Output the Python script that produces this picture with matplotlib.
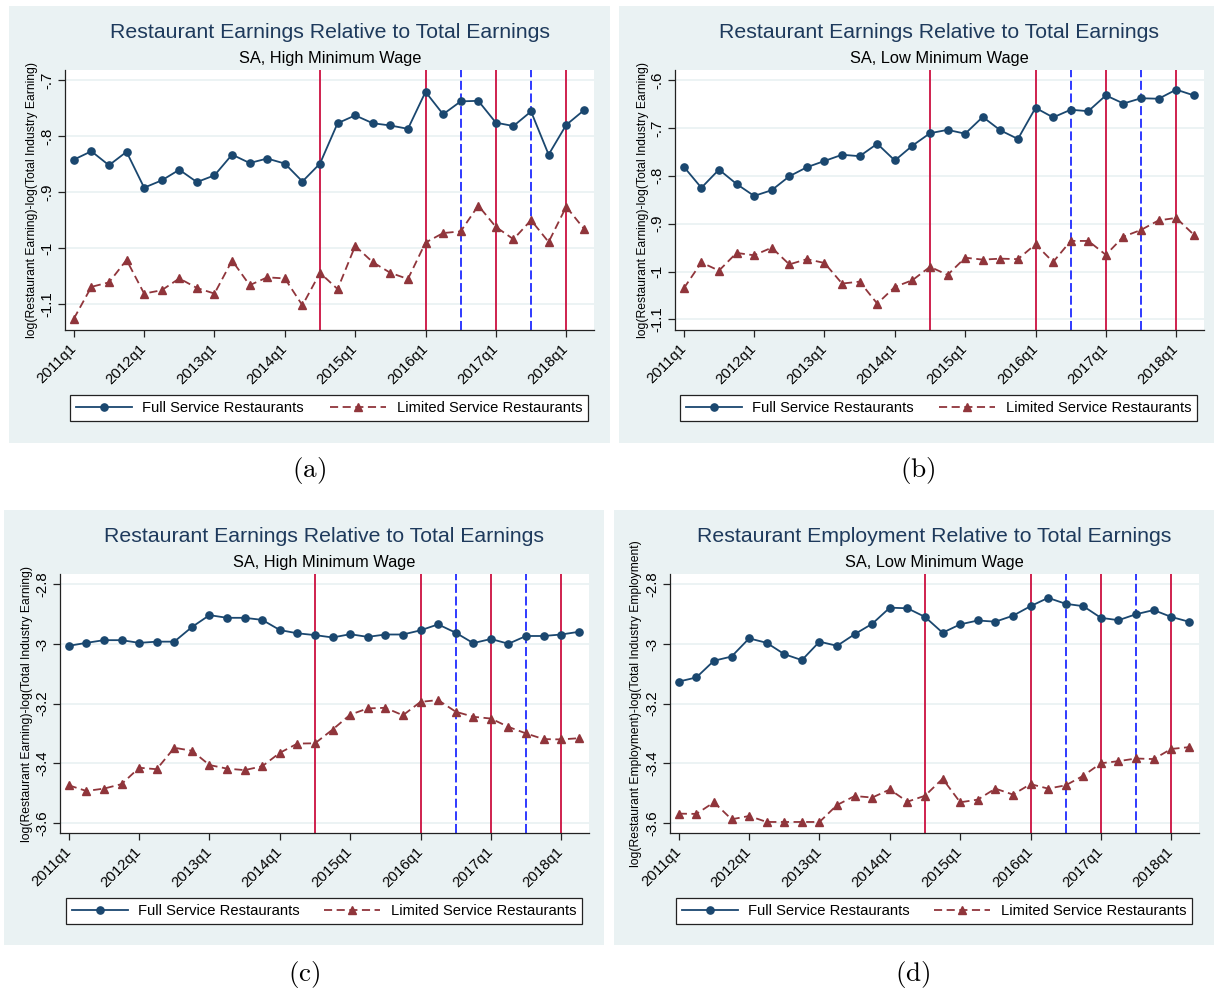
import matplotlib
matplotlib.use("Agg")
import matplotlib.pyplot as plt
from matplotlib.patches import Rectangle

plt.rcParams["font.family"] = ["Liberation Sans", "DejaVu Sans"]
plt.rcParams["mathtext.fontset"] = "cm"

# ---------------------------------------------------------------- data
quarters = [f"{y}q{q}" for y in range(2011, 2019) for q in range(1, 5)][:30]
xtick_labels = ["2011q1", "2012q1", "2013q1", "2014q1",
                "2015q1", "2016q1", "2017q1", "2018q1"]

# minimum wage increases (solid) and mid-year increases (dashed)
increase_quarters = ["2014q3", "2016q1", "2017q1", "2018q1"]
midyear_quarters = ["2016q3", "2017q3"]

full_a = [-0.842, -0.827, -0.852, -0.828, -0.892, -0.879, -0.860, -0.882,
          -0.870, -0.833, -0.848, -0.840, -0.849, -0.881, -0.849, -0.777,
          -0.763, -0.777, -0.781, -0.787, -0.721, -0.761, -0.738, -0.737,
          -0.776, -0.782, -0.756, -0.833, -0.780, -0.754]
limited_a = [-1.126, -1.069, -1.061, -1.021, -1.081, -1.075, -1.054, -1.071,
             -1.081, -1.022, -1.066, -1.052, -1.054, -1.102, -1.044, -1.073,
             -0.996, -1.025, -1.044, -1.055, -0.990, -0.973, -0.970, -0.924,
             -0.962, -0.984, -0.950, -0.989, -0.926, -0.965]

full_b = [-0.781, -0.825, -0.787, -0.817, -0.842, -0.830, -0.801, -0.782,
          -0.769, -0.756, -0.759, -0.733, -0.768, -0.737, -0.711, -0.704,
          -0.712, -0.677, -0.705, -0.723, -0.658, -0.678, -0.662, -0.665,
          -0.632, -0.649, -0.638, -0.639, -0.620, -0.632]
limited_b = [-1.035, -0.981, -0.998, -0.961, -0.966, -0.950, -0.985, -0.974,
             -0.982, -1.025, -1.021, -1.067, -1.032, -1.018, -0.990, -1.007,
             -0.971, -0.975, -0.973, -0.974, -0.943, -0.980, -0.936, -0.936,
             -0.965, -0.927, -0.913, -0.893, -0.888, -0.923]

full_c = [-3.006, -2.996, -2.987, -2.987, -2.996, -2.992, -2.992, -2.943,
          -2.903, -2.912, -2.912, -2.919, -2.953, -2.964, -2.970, -2.978,
          -2.967, -2.976, -2.968, -2.968, -2.954, -2.934, -2.962, -2.997,
          -2.983, -2.999, -2.973, -2.973, -2.968, -2.959]
limited_c = [-3.474, -3.493, -3.485, -3.470, -3.415, -3.420, -3.348, -3.358,
             -3.406, -3.418, -3.423, -3.410, -3.365, -3.334, -3.333, -3.287,
             -3.237, -3.216, -3.214, -3.239, -3.194, -3.188, -3.227, -3.244,
             -3.250, -3.278, -3.300, -3.319, -3.320, -3.316]

full_d = [-3.126, -3.112, -3.056, -3.042, -2.981, -2.996, -3.034, -3.054,
          -2.992, -3.006, -2.967, -2.932, -2.878, -2.880, -2.909, -2.962,
          -2.934, -2.921, -2.925, -2.905, -2.873, -2.845, -2.865, -2.873,
          -2.912, -2.920, -2.900, -2.886, -2.909, -2.925]
limited_d = [-3.569, -3.570, -3.531, -3.588, -3.577, -3.597, -3.597, -3.597,
             -3.597, -3.540, -3.510, -3.515, -3.488, -3.529, -3.509, -3.452,
             -3.531, -3.522, -3.485, -3.505, -3.470, -3.485, -3.474, -3.442,
             -3.400, -3.393, -3.384, -3.386, -3.352, -3.346]

yticks_a = [-1.1, -1.0, -0.9, -0.8, -0.7]
ylabels_a = ["-1.1", "-1", "-.9", "-.8", "-.7"]
yticks_b = [-1.1, -1.0, -0.9, -0.8, -0.7, -0.6]
ylabels_b = ["-1.1", "-1", "-.9", "-.8", "-.7", "-.6"]
yticks_cd = [-3.6, -3.4, -3.2, -3.0, -2.8]
ylabels_cd = ["-3.6", "-3.4", "-3.2", "-3", "-2.8"]

titles = ["Restaurant Earnings Relative to Total Earnings",
          "Restaurant Earnings Relative to Total Earnings",
          "Restaurant Earnings Relative to Total Earnings",
          "Restaurant Employment Relative to Total Earnings"]
subtitles = ["SA, High Minimum Wage", "SA, Low Minimum Wage",
             "SA, High Minimum Wage", "SA, Low Minimum Wage"]
ylabel_earn = "log(Restaurant Earning)-log(Total Industry Earning)"
ylabel_emp = "log(Restaurant Employment)-log(Total Industry Employment)"
captions = ["(a)", "(b)", "(c)", "(d)"]
series_names = ["Full Service Restaurants", "Limited Service Restaurants"]

# ---------------------------------------------------------------- style
W, H = 1214, 992
BG = "#EAF2F3"
NAVY = "#1A476F"
MAROON = "#90353B"
RED = "#CC1040"
BLUE = "#1F2BFF"
TITLE_C = "#1E3A5C"

fig = plt.figure(figsize=(W / 100, H / 100), dpi=100)
fig.patch.set_facecolor("white")


def frac(x0, y0, x1, y1):
    return [x0 / W, 1 - y1 / H, (x1 - x0) / W, (y1 - y0) / H]


panels = [
    dict(bg=(9, 6, 610, 443), ax=(65, 70, 594, 330), full=full_a, lim=limited_a,
         ylim=(-1.146, -0.682), yt=yticks_a, yl=ylabels_a, ylab=ylabel_earn,
         tx=330, ty=33, sy=58, labx=32, leg=(70, 394, 588, 422), cap=(309, 470)),
    dict(bg=(619, 6, 1214, 443), ax=(675, 70, 1204, 330), full=full_b, lim=limited_b,
         ylim=(-1.122, -0.579), yt=yticks_b, yl=ylabels_b, ylab=ylabel_earn,
         tx=939, ty=33, sy=58, labx=643, leg=(680, 394, 1197, 422), cap=(918, 470)),
    dict(bg=(4, 510, 604, 945), ax=(60, 574, 589, 833), full=full_c, lim=limited_c,
         ylim=(-3.634, -2.765), yt=yticks_cd, yl=ylabels_cd, ylab=ylabel_earn,
         tx=324, ty=537, sy=562, labx=27, leg=(66, 897, 582, 925), cap=(304, 975)),
    dict(bg=(614, 510, 1214, 945), ax=(670, 574, 1199, 833), full=full_d, lim=limited_d,
         ylim=(-3.634, -2.765), yt=yticks_cd, yl=ylabels_cd, ylab=ylabel_emp,
         tx=934, ty=537, sy=562, labx=636, leg=(676, 897, 1192, 925), cap=(913, 975)),
]

xpos = list(range(len(quarters)))

for i, p in enumerate(panels):
    x0, y0, x1, y1 = p["bg"]
    fig.patches.append(Rectangle((x0 / W, 1 - y1 / H), (x1 - x0) / W, (y1 - y0) / H,
                                 transform=fig.transFigure, facecolor=BG,
                                 edgecolor="none", zorder=-10))
    ax = fig.add_axes(frac(*p["ax"]))
    ax.set_zorder(1)
    ax.set_facecolor("white")
    for s in ("top", "right"):
        ax.spines[s].set_visible(False)
    for s in ("left", "bottom"):
        ax.spines[s].set_color("#222222")
        ax.spines[s].set_linewidth(0.9)

    for yv in p["yt"]:
        ax.axhline(yv, color=BG, lw=1.3, zorder=1)
    for q in increase_quarters:
        ax.axvline(quarters.index(q), color=RED, lw=1.3, zorder=2)
    for q in midyear_quarters:
        ax.axvline(quarters.index(q), color=BLUE, lw=1.3, ls=(0, (5, 2)), zorder=2)

    ax.plot(xpos, p["full"], color=NAVY, lw=1.3, marker="o", ms=5.2,
            zorder=4, label=series_names[0])
    ax.plot(xpos, p["lim"], color=MAROON, lw=1.3, ls=(0, (4.5, 2.5)), marker="^",
            ms=5.2, zorder=3, label=series_names[1])

    ax.set_xlim(-0.5, 29.58)
    ax.set_ylim(*p["ylim"])
    ax.set_yticks(p["yt"])
    ax.set_yticklabels(p["yl"], rotation=90, va="center")
    ax.set_xticks([quarters.index(t) for t in xtick_labels])
    ax.set_xticklabels(xtick_labels, rotation=45, ha="right", va="center",
                       rotation_mode="anchor")
    ax.tick_params(axis="both", length=5, width=0.9, color="#222222",
                   labelsize=10.8, pad=3)
    ax.tick_params(axis="x", pad=7)

    ax.set_ylabel(p["ylab"], fontsize=8.7)
    ax0 = p["ax"]
    ax.yaxis.set_label_coords((p["labx"] + 6 - ax0[0]) / (ax0[2] - ax0[0]), 0.5)

    fig.text(p["tx"] / W, 1 - p["ty"] / H, titles[i], fontsize=15.3,
             color=TITLE_C, ha="center", va="center")
    fig.text(p["tx"] / W, 1 - p["sy"] / H, subtitles[i], fontsize=11.8,
             color="black", ha="center", va="center")

    lx0, ly0, lx1, ly1 = p["leg"]
    leg = ax.legend(loc="center", ncol=2, mode="expand",
                    bbox_to_anchor=(lx0 / W, 1 - ly1 / H, (lx1 - lx0) / W, (ly1 - ly0) / H),
                    bbox_transform=fig.transFigure, fontsize=10.6, frameon=True,
                    fancybox=False, edgecolor="#222222", framealpha=1,
                    handlelength=3.8, handletextpad=0.7, columnspacing=1.8,
                    borderpad=0.4, borderaxespad=0, numpoints=1)
    leg.get_frame().set_linewidth(0.9)

    cx, cy = p["cap"]
    fig.text(cx / W, 1 - cy / H, r"$\mathrm{" + captions[i] + "}$", fontsize=19.5,
             ha="center", va="center")

fig.savefig("out.png", dpi=100)
